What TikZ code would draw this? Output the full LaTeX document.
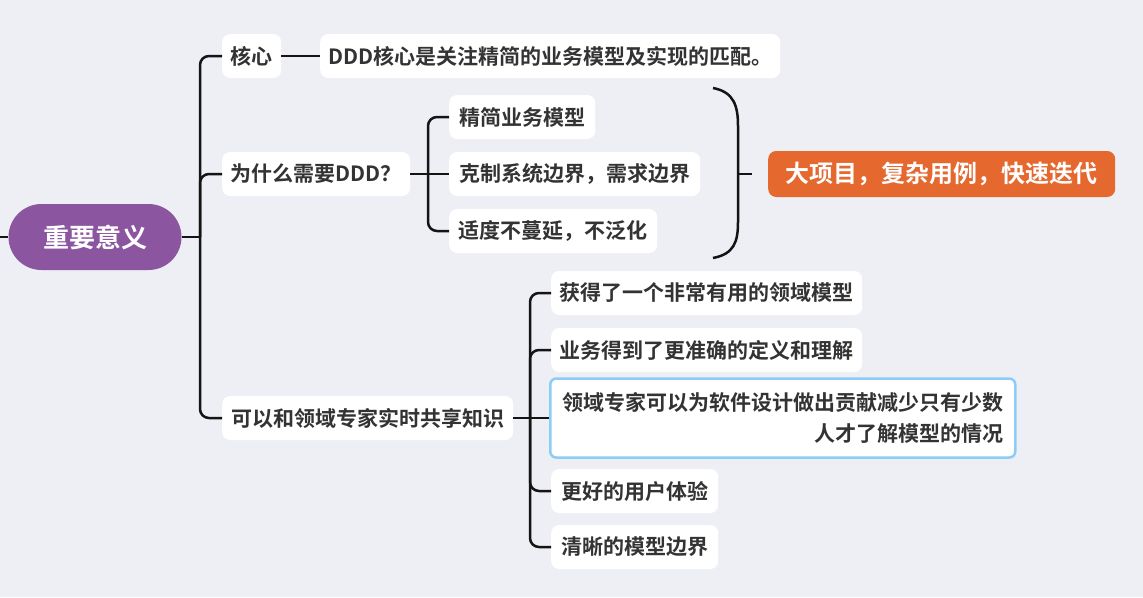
\documentclass[tikz,border=0pt]{standalone}
\usepackage{fontspec}
\newfontfamily\cjk{Noto Sans CJK SC}[BoldFont={Noto Sans CJK SC Bold}]
\definecolor{bg}{RGB}{238,239,245}
\definecolor{txt}{RGB}{51,51,51}
\definecolor{purp}{RGB}{139,85,160}
\definecolor{orng}{RGB}{229,104,47}
\definecolor{bluebd}{RGB}{140,205,248}
\tikzset{
  box/.style={anchor=west, fill=white, rounded corners=8pt, minimum height=44pt,
    inner xsep=0pt, inner ysep=0pt, text=txt, font=\cjk\bfseries\fontsize{21}{28}\selectfont},
  conn/.style={line width=2.5pt, draw=black!92, rounded corners=9pt},
}
\begin{document}
\begin{tikzpicture}[x=1pt,y=-1pt]
\fill[bg] (0,0) rectangle (1143,597);
\useasboundingbox (0,0) rectangle (1143,597);

% root
\node[fill=purp, rounded corners=33pt, minimum width=173pt, minimum height=66pt,
  text=white, font=\cjk\bfseries\fontsize{26}{30}\selectfont] (root) at (95,237) {重要意义};
\coordinate (lft) at (0,237);
\coordinate (t1) at (200,237);

% level 1
\node[box, minimum width=59pt] (b1) at (222,56) {核心};
\node[box, minimum width=460pt] (b1c) at (320,56) {DDD核心是关注精简的业务模型及实现的匹配。};
\node[box, minimum width=188pt] (b2) at (222,174) {为什么需要DDD？};
\node[box, minimum width=291pt] (b3) at (222,418) {可以和领域专家实时共享知识};

% branch 2 children
\node[box, minimum width=146pt] (e1) at (449,117) {精简业务模型};
\node[box, minimum width=251pt] (e2) at (449,174) {克制系统边界，需求边界};
\node[box, minimum width=208pt] (e3) at (449,231) {适度不蔓延，不泛化};
\coordinate (t2) at (428,174);

% summary
\node[box, fill=orng, text=white, minimum width=347pt, minimum height=46pt,
  font=\cjk\bfseries\fontsize{24}{28}\selectfont] (big) at (768,174) {大项目，复杂用例，快速迭代};
\coordinate (bt) at (738,174);
\coordinate (bte) at (752,174);

% branch 3 children
\coordinate (t3) at (530,418);
\node[box, minimum width=311pt] (f1) at (551,293) {获得了一个非常有用的领域模型};
\node[box, minimum width=311pt] (f2) at (551,350) {业务得到了更准确的定义和理解};
\node[box, draw=bluebd, line width=2.5pt, rounded corners=6pt, minimum width=465pt, minimum height=79pt,
  align=right, text width=441pt, font=\cjk\bfseries\fontsize{21}{31}\selectfont] (f3) at (549,418)
  {领域专家可以为软件设计做出贡献减少只有少数\\人才了解模型的情况};
\node[box, minimum width=167pt] (f4) at (551,491) {更好的用户体验};
\node[box, minimum width=167pt] (f5) at (551,547) {清晰的模型边界};

% connectors
\draw[conn] (lft) -- (root.west);
\draw[conn] (root.east) -- (t1);
\draw[conn] (t1) |- (b1.west);
\draw[conn] (t1) |- (b2.west);
\draw[conn] (t1) |- (b3.west);
\draw[conn] (b1.east) -- (b1c.west);

\draw[conn] (b2.east) -- (e2.west);
\draw[conn] (t2) |- (e1.west);
\draw[conn] (t2) |- (e3.west);

\draw[conn] (b3.east) -- (f3.west);
\draw[conn] (t3) |- (f1.west);
\draw[conn] (t3) |- (f2.west);
\draw[conn] (t3) |- (f4.west);
\draw[conn] (t3) |- (f5.west);

% brace
\draw[line width=2.5pt, draw=black!92] (713,88) .. controls (734,92) and (738,106) .. (738,126)
  -- (738,222) .. controls (738,242) and (734,254) .. (713,258);
\draw[conn] (bt) -- (bte);
\end{tikzpicture}
\end{document}
